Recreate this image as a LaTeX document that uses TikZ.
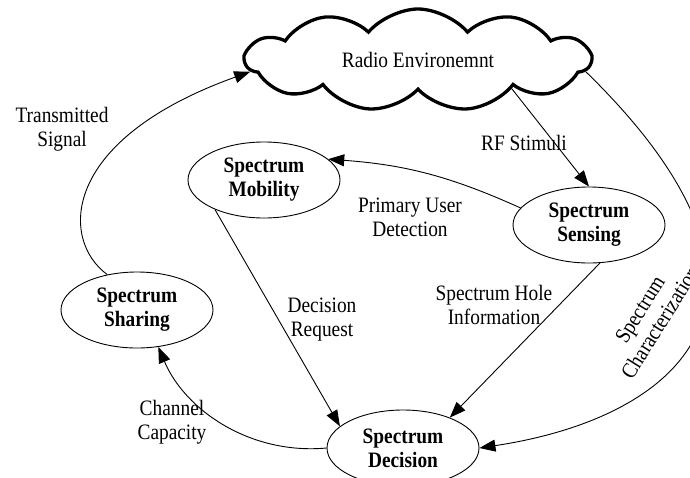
\documentclass[tikz,border=0pt]{standalone}
\usepackage{fontspec}
\setmainfont{Liberation Serif}[FakeStretch=0.88]
\usetikzlibrary{shapes.symbols,shapes.geometric,arrows.meta}
\begin{document}
\begin{tikzpicture}[x=1pt,y=1pt,
  every node/.style={font=\fontsize{22}{24}\selectfont},
  func/.style={ellipse,draw,line width=0.9pt,minimum width=152pt,minimum height=76pt,inner sep=0pt,align=center,font=\fontsize{22}{24}\selectfont\bfseries},
  lbl/.style={align=center,inner sep=0pt},
  conn/.style={line width=0.9pt,-{Triangle[length=16pt,width=12pt]}}]
\useasboundingbox (0,0) rectangle (690,-477);
\fill[white] (0,0) rectangle (690,-477);
\node[cloud,draw,line width=3.3pt,cloud puffs=11,cloud puff arc=100,cloud ignores aspect,minimum width=345pt,minimum height=102pt,inner sep=0pt] (env) at (418,-60) {Radio Environemnt};
\node[func] (mob) at (264,-180) {Spectrum\\Mobility};
\node[func] (sen) at (589,-225) {Spectrum\\Sensing};
\node[func] (shr) at (137,-310) {Spectrum\\Sharing};
\node[func] (dec) at (403,-448) {Spectrum\\Decision};
\draw[conn] (env.-17) -- (sen.north);
\draw[conn] (sen.166) to[bend right=10] (mob.18);
\draw[conn] (mob.211) -- (dec.161);
\draw[conn] (sen.-74) -- (dec.33);
\draw[conn] (env.-4) .. controls (815,-295) and (685,-417) .. (dec.east);
\draw[conn] (shr.130) .. controls (60,-240) and (60,-140) .. (env.184);
\draw[conn] (dec.west) .. controls (250,-455) and (185,-410) .. (shr.-60);
\node[lbl] (lrf) at (524,-143) {RF Stimuli};
\node[lbl] (lts) at (62,-129) {Transmitted\\Signal};
\node[lbl] (lpu) at (410,-217) {Primary User\\Detection};
\node[lbl] (ldr) at (322,-320) {Decision\\Request};
\node[lbl] (lsh) at (494,-305) {Spectrum Hole\\Information};
\node[lbl] (lcc) at (172,-422) {Channel\\Capacity};
\node[lbl,rotate=58] (lsc) at (650,-316) {Spectrum\\Characterization};
\end{tikzpicture}
\end{document}
